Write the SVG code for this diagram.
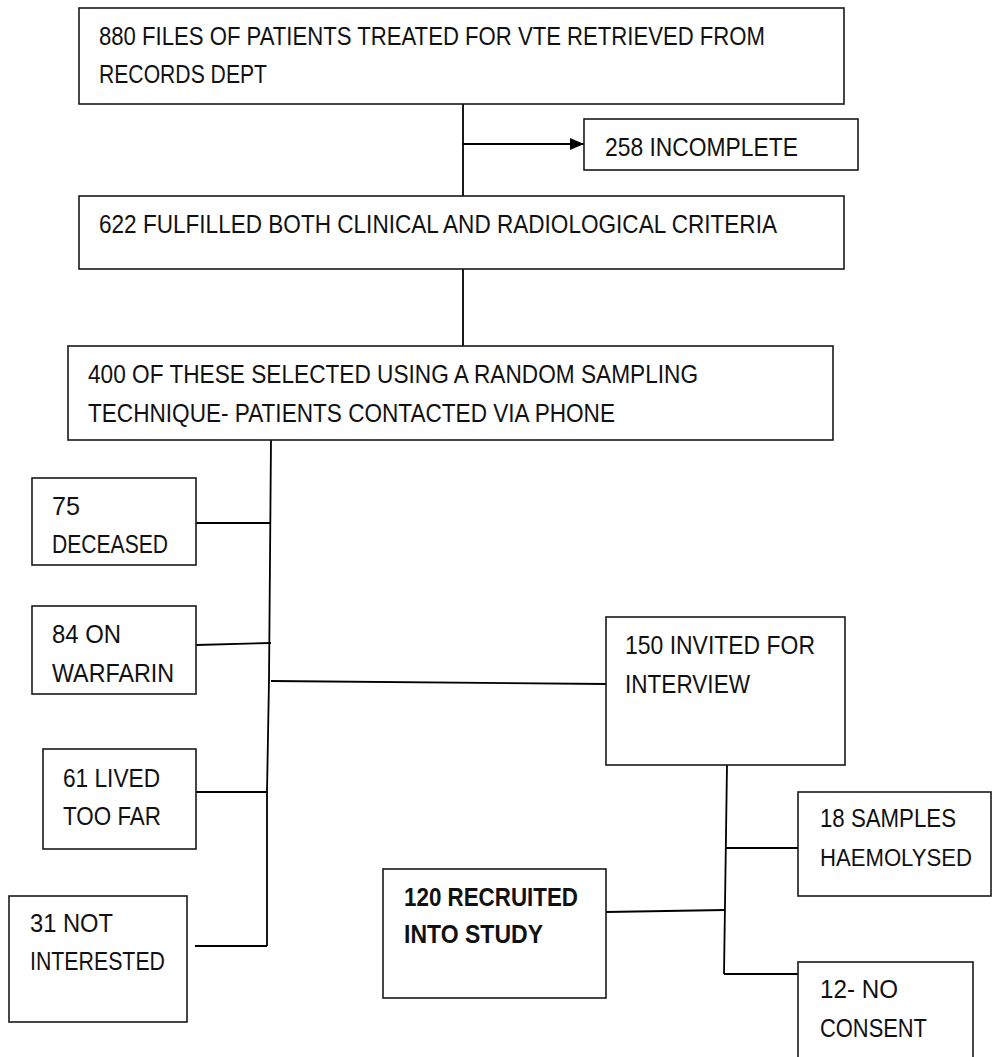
<svg xmlns="http://www.w3.org/2000/svg" width="993" height="1057" viewBox="0 0 993 1057">
<style>
  .box { fill: #ffffff; stroke: #1a1a1a; stroke-width: 1.6; }
  .ln { fill: none; stroke: #000000; stroke-width: 1.8; }
  text { font-family: "Liberation Sans", Arial, sans-serif; font-size: 25.5px; fill: #111111; }
  .b { font-weight: bold; }
  .sm { font-size: 23px; }
</style>
<defs>
  <marker id="arrow" markerWidth="14" markerHeight="12" refX="14" refY="6" orient="auto" markerUnits="userSpaceOnUse">
    <path d="M0,0 L14,6 L0,12 Z" fill="#000000"/>
  </marker>
</defs>
<rect width="993" height="1057" fill="#ffffff"/>

<g id="connectors">
  <line class="ln" x1="463" y1="104" x2="463" y2="196"/>
  <line class="ln" x1="463" y1="144" x2="584" y2="144" marker-end="url(#arrow)"/>
  <line class="ln" x1="463" y1="269" x2="463" y2="346"/>
  <polyline class="ln" points="271,440 269,680 267,792 267,946"/>
  <line class="ln" x1="196" y1="523" x2="271" y2="523"/>
  <line class="ln" x1="196" y1="645" x2="271" y2="643"/>
  <line class="ln" x1="271" y1="681" x2="606" y2="684"/>
  <line class="ln" x1="196" y1="792" x2="267" y2="792"/>
  <line class="ln" x1="195" y1="946" x2="267" y2="946"/>
  <polyline class="ln" points="727,765 724,974"/>
  <line class="ln" x1="726" y1="848" x2="798" y2="848"/>
  <line class="ln" x1="606" y1="912" x2="725" y2="910"/>
  <line class="ln" x1="724" y1="974" x2="798" y2="974"/>
</g>

<g id="node-880">
  <rect class="box" x="79" y="8" width="765" height="96"/>
  <text x="99" y="45" textLength="666" lengthAdjust="spacingAndGlyphs">880 FILES OF PATIENTS TREATED FOR VTE RETRIEVED FROM</text>
  <text x="99" y="83" textLength="168" lengthAdjust="spacingAndGlyphs">RECORDS DEPT</text>
</g>

<g id="node-258">
  <rect class="box" x="584" y="119" width="274" height="51"/>
  <text x="605" y="156" textLength="193" lengthAdjust="spacingAndGlyphs">258 INCOMPLETE</text>
</g>

<g id="node-622">
  <rect class="box" x="79" y="196" width="765" height="73"/>
  <text x="99" y="233" textLength="678" lengthAdjust="spacingAndGlyphs">622 FULFILLED BOTH CLINICAL AND RADIOLOGICAL CRITERIA</text>
</g>

<g id="node-400">
  <rect class="box" x="68" y="346" width="765" height="94"/>
  <text x="88" y="383" textLength="610" lengthAdjust="spacingAndGlyphs">400 OF THESE SELECTED USING A RANDOM SAMPLING</text>
  <text x="88" y="422" textLength="527" lengthAdjust="spacingAndGlyphs">TECHNIQUE- PATIENTS CONTACTED VIA PHONE</text>
</g>

<g id="node-75">
  <rect class="box" x="32" y="478" width="164" height="87"/>
  <text x="52" y="515" textLength="28" lengthAdjust="spacingAndGlyphs">75</text>
  <text x="52" y="553" textLength="116" lengthAdjust="spacingAndGlyphs">DECEASED</text>
</g>

<g id="node-84">
  <rect class="box" x="32" y="606" width="164" height="88"/>
  <text x="52" y="643" textLength="69" lengthAdjust="spacingAndGlyphs">84 ON</text>
  <text x="52" y="682" textLength="122" lengthAdjust="spacingAndGlyphs">WARFARIN</text>
</g>

<g id="node-61">
  <rect class="box" x="43" y="749" width="153" height="100"/>
  <text x="63" y="787" textLength="97" lengthAdjust="spacingAndGlyphs">61 LIVED</text>
  <text x="63" y="825" textLength="98" lengthAdjust="spacingAndGlyphs">TOO FAR</text>
</g>

<g id="node-31">
  <rect class="box" x="9" y="896" width="178" height="126"/>
  <text x="30" y="932" textLength="83" lengthAdjust="spacingAndGlyphs">31 NOT</text>
  <text x="30" y="970" textLength="135" lengthAdjust="spacingAndGlyphs">INTERESTED</text>
</g>

<g id="node-150">
  <rect class="box" x="606" y="617" width="239" height="148"/>
  <text x="625" y="654" textLength="190" lengthAdjust="spacingAndGlyphs">150 INVITED FOR</text>
  <text x="625" y="693" textLength="125" lengthAdjust="spacingAndGlyphs">INTERVIEW</text>
</g>

<g id="node-18">
  <rect class="box" x="798" y="792" width="193" height="104"/>
  <text x="820" y="827" textLength="136" lengthAdjust="spacingAndGlyphs">18 SAMPLES</text>
  <text class="sm" x="820" y="866" textLength="152" lengthAdjust="spacingAndGlyphs">HAEMOLYSED</text>
</g>

<g id="node-120">
  <rect class="box" x="383" y="869" width="223" height="129"/>
  <text class="b" x="404" y="906" textLength="174" lengthAdjust="spacingAndGlyphs">120 RECRUITED</text>
  <text class="b" x="404" y="943" textLength="139" lengthAdjust="spacingAndGlyphs">INTO STUDY</text>
</g>

<g id="node-12">
  <rect class="box" x="798" y="962" width="175" height="110"/>
  <text x="820" y="998" textLength="78" lengthAdjust="spacingAndGlyphs">12- NO</text>
  <text x="820" y="1037" textLength="107" lengthAdjust="spacingAndGlyphs">CONSENT</text>
</g>
</svg>
